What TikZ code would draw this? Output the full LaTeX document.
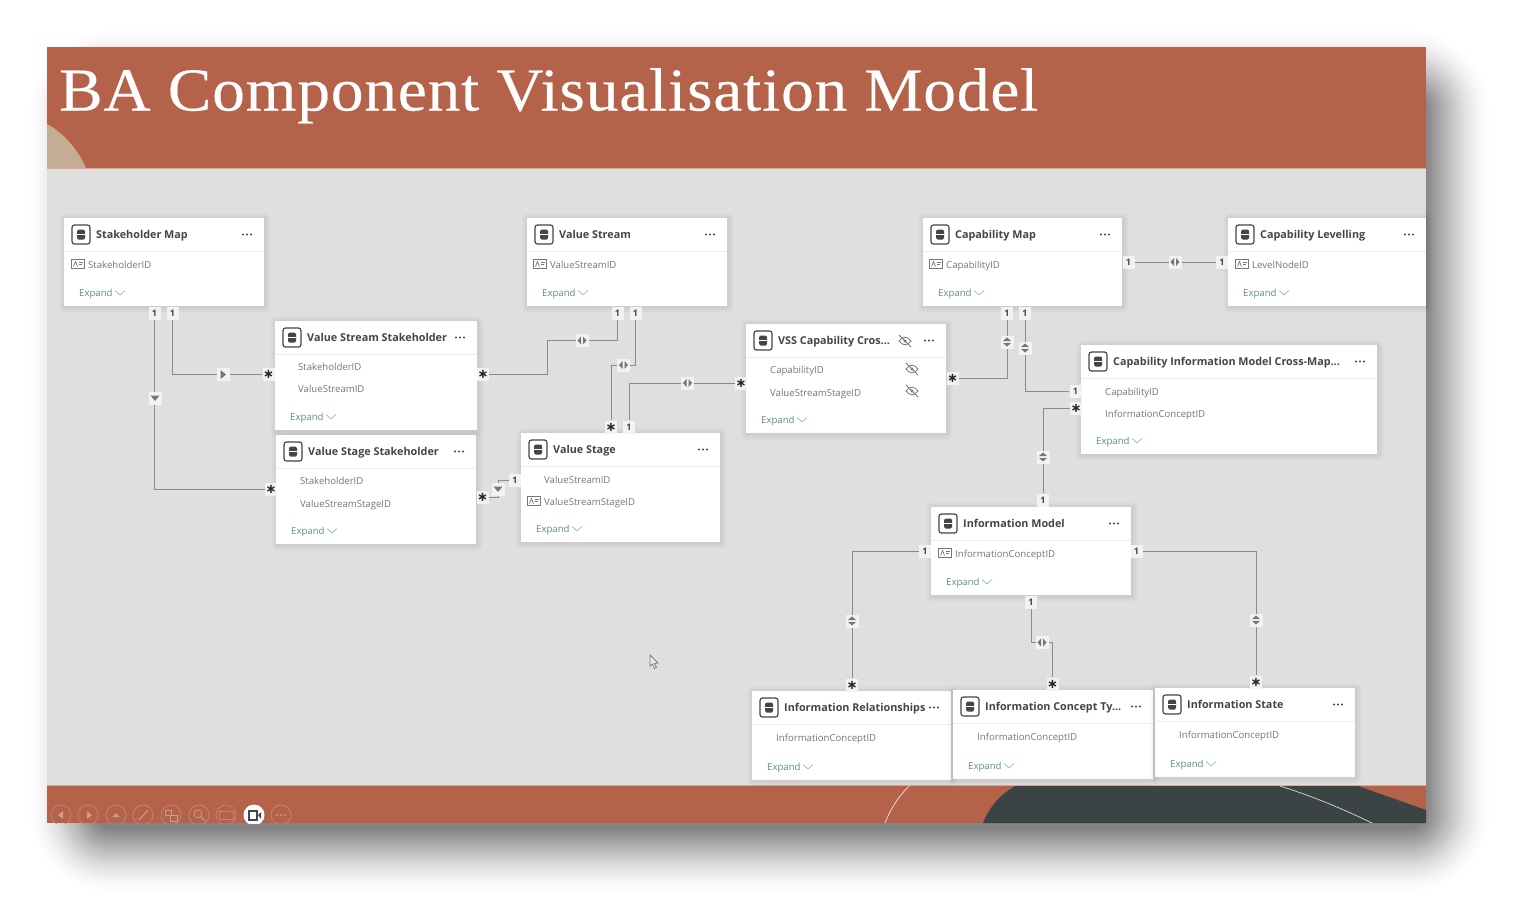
\documentclass[tikz,border=0pt]{standalone}
\usepackage{fontspec}
\setmainfont{Open Sans}
\newfontfamily\slidefont[LetterSpace=1.4,FakeStretch=1.07,FakeBold=0.25]{Liberation Serif}
\newfontfamily\starfont{DejaVu Sans}
\definecolor{slidered}{HTML}{B4634A}
\definecolor{slidetan}{HTML}{C5AD93}
\definecolor{slidedark}{HTML}{3C4345}
\definecolor{canvasgray}{HTML}{E0DFDD}
\definecolor{linegray}{HTML}{8A8A88}
\definecolor{titlegray}{HTML}{454545}
\definecolor{fieldgray}{HTML}{767676}
\definecolor{expandteal}{HTML}{5F8C8C}
\tikzset{
    tablecard/.style={fill=white},
    cardshade/.style={fill=black, opacity=0.011},
    tabletitle/.style={anchor=base west, inner sep=0pt, yshift=-4pt, font=\fontsize{10.8}{12}\selectfont\bfseries, text=titlegray},
    tablefield/.style={anchor=base west, inner sep=0pt, yshift=-3.5pt, font=\fontsize{9.6}{10}\selectfont, text=fieldgray},
    tableexpand/.style={anchor=base west, inner sep=0pt, yshift=-3.5pt, font=\fontsize{9.6}{10}\selectfont, text=expandteal},
    badge/.style={fill=canvasgray!40!white, inner sep=0pt, minimum width=12pt, minimum height=13pt, font=\fontsize{9}{10}\selectfont\bfseries, text=titlegray},
    starbadge/.style={badge, font=\fontsize{13}{13}\starfont\bfseries, text=black!85},
    stickerbox/.style={fill=canvasgray!40!white, inner sep=0pt, minimum width=13pt, minimum height=13pt},
    relline/.style={linegray, line width=0.95pt},
}
% one table of the model view, corners in pixels
\newcommand{\tablecard}[6]{%
    \foreach \grow in {6,5,4,3,2,1}
        \fill[cardshade, rounded corners=\grow pt] (#2-\grow+1,#3-\grow+1) rectangle (#4+\grow+1,#5+\grow+1);
    \fill[tablecard] (#2,#3) rectangle (#4,#5);
    \draw[canvasgray!60!white, line width=0.6pt] (#2,#3+33) -- (#4,#3+33);
    \draw[titlegray, line width=1.2pt, rounded corners=2.5pt] (#2+8,#3+7) rectangle (#2+26,#3+26);
    \fill[titlegray, rounded corners=1.5pt] (#2+13,#3+11.5) rectangle (#2+21,#3+21.5);
    \draw[white, line width=0.6pt] (#2+13,#3+16.5) -- (#2+21,#3+16.5);
    \node[tabletitle] (#1) at (#2+32,#3+16.5) {#6};
    \foreach \dotx in {-21,-17,-13}
        \fill[titlegray] (#4+\dotx,#3+16.5) circle (1.05);
    \node[tableexpand] (#1expand) at (#2+15,#5-13) {Expand};
    \draw[expandteal!70!white, line width=0.6pt] (#2+51,#5-15.5) -- (#2+56,#5-11) -- (#2+61,#5-15.5);
}
\newcommand{\keyicon}[2]{%
    \draw[fieldgray, line width=0.7pt] (#1-6.5,#2-4.5) rectangle (#1+6.5,#2+4.5);
    \draw[fieldgray, line width=0.7pt] (#1-4.5,#2+2.5) -- (#1-2.5,#2-2.5) -- (#1-0.5,#2+2.5);
    \draw[fieldgray, line width=0.7pt] (#1+1,#2-2) -- (#1+5,#2-2) (#1+1,#2) -- (#1+4,#2);
}
\newcommand{\hiddenicon}[2]{%
    \draw[fieldgray, line width=0.8pt] (#1-6,#2) .. controls (#1-2,#2-5) and (#1+2,#2-5) .. (#1+6,#2) .. controls (#1+2,#2+5) and (#1-2,#2+5) .. cycle;
    \fill[fieldgray] (#1,#2) circle (1.6);
    \draw[fieldgray, line width=0.8pt] (#1-6,#2-6) -- (#1+6,#2+6);
}
% little filter-direction sticker on a relationship line
\newcommand{\sticker}[4]{%
    \node[stickerbox] (#1) at (#2,#3) {};
    \begin{scope}[shift={(#2,#3)}, rotate=#4]
        \fill[linegray!85!black] (-1,-4) -- (-1,4) -- (-4.5,0) -- cycle;
        \fill[linegray!85!black] (1,-4) -- (1,4) -- (4.5,0) -- cycle;
    \end{scope}
}
\newcommand{\singlesticker}[4]{%
    \node[stickerbox] (#1) at (#2,#3) {};
    \begin{scope}[shift={(#2,#3)}, rotate=#4]
        \fill[linegray!85!black] (-2.5,-4.5) -- (-2.5,4.5) -- (3,0) -- cycle;
    \end{scope}
}
\begin{document}
\begin{tikzpicture}[x=1pt,y=-1pt]
    \useasboundingbox (0,0) rectangle (1521,918);
    \fill[white] (0,0) rectangle (1521,918);
    % soft shadow of the slide
    \foreach \spread in {50,48,...,-14} {
        \pgfmathsetmacro{\shadeop}{0.004+0.028*(50-\spread)/64}
        \pgfmathsetmacro{\shaderad}{\spread+30}
        \fill[black, opacity=\shadeop, rounded corners=\shaderad pt] (80-\spread,80-\spread) rectangle (1440+\spread,843+\spread);
    }
    % slide
    \fill[canvasgray] (47,168) rectangle (1426,786);
    \fill[slidered] (47,47) rectangle (1426,168);
    \fill[slidetan] (47,124) .. controls (65,134) and (78,150) .. (86,168) -- (47,168) -- cycle;
    \fill[slidered] (47,786) rectangle (1426,823);
    \draw[slidered!55!white, line width=0.8pt] (47,168.3) -- (1426,168.3) (47,785.7) -- (1426,785.7);
    \fill[slidedark] (1015,786) -- (1358,786) -- (1426,810) -- (1426,823) -- (983,823) .. controls (990,806) and (1000,795) .. (1015,786) -- cycle;
    \draw[white!80!slidered, line width=0.7pt] (909,786) .. controls (898,797) and (890,810) .. (885,823);
    \draw[white!80!slidedark, line width=0.7pt] (1280,786) .. controls (1315,797) and (1345,810) .. (1372,823);
    \node[anchor=base west, inner sep=0pt, text=white, font=\fontsize{61}{61}\slidefont] (slidetitle) at (59,110.5) {BA Component Visualisation Model};

    % slide show buttons
    \begin{scope}
        \clip (47,786) rectangle (1426,823);
        \foreach \btnx in {61,88,116,143,171,199,226,281} {
            \draw[white!22!slidered, line width=0.7pt] (\btnx,815) circle (10);
        }
        \fill[white!35!slidered] (63,811) -- (63,819) -- (58,815) -- cycle;
        \fill[white!35!slidered] (87,811) -- (87,819) -- (92,815) -- cycle;
        \fill[white!35!slidered] (112,817) -- (120,817) -- (116,813) -- cycle;
        \draw[white!35!slidered, line width=1pt] (139,820) -- (148,810);
        \draw[white!35!slidered, line width=0.8pt] (165,810) rectangle (171,815) (170,815) rectangle (177,821);
        \draw[white!35!slidered, line width=0.8pt] (198,814) circle (4) (201,817) -- (205,821);
        \draw[white!22!slidered, line width=0.8pt] (219,811) rectangle (233,819);
        \foreach \dotx in {277,281,285} {
            \fill[white!35!slidered] (\dotx,815) circle (1);
        }
        \fill[white] (254,815) circle (10.5);
        \draw[titlegray, line width=1.1pt] (249,811) rectangle (257,820);
        \fill[titlegray] (258,815) -- (261,812) -- (261,819) -- cycle;
    \end{scope}

    % tables
    \tablecard{stakeholdermap}{64}{218}{264}{306}{Stakeholder Map}
    \keyicon{78}{264}
    \node[tablefield] (smkey) at (88,264.5) {StakeholderID};

    \tablecard{vsstakeholder}{275}{321}{477}{430}{Value Stream Stakeholder}
    \node[tablefield] (vsskfieldone) at (298,367) {StakeholderID};
    \node[tablefield] (vsskfieldtwo) at (298,389) {ValueStreamID};

    \tablecard{vstagestakeholder}{276}{435}{476}{544}{Value Stage Stakeholder}
    \node[tablefield] (vgskfieldone) at (300,481) {StakeholderID};
    \node[tablefield] (vgskfieldtwo) at (300,503.5) {ValueStreamStageID};

    \tablecard{valuestream}{527}{218}{727}{306}{Value Stream}
    \keyicon{540}{264}
    \node[tablefield] (vskey) at (550,264.5) {ValueStreamID};

    \tablecard{valuestage}{521}{433}{720}{542}{Value Stage}
    \node[tablefield] (vgfieldone) at (544,479.5) {ValueStreamID};
    \keyicon{534}{501}
    \node[tablefield] (vgfieldtwo) at (544,502) {ValueStreamStageID};

    \tablecard{vsscap}{746}{324}{946}{433}{VSS Capability Cros...}
    \hiddenicon{905}{341}
    \node[tablefield] (vssfieldone) at (770,370) {CapabilityID};
    \hiddenicon{912}{369}
    \node[tablefield] (vssfieldtwo) at (770,392.5) {ValueStreamStageID};
    \hiddenicon{912}{391}

    \tablecard{capmap}{923}{218}{1122}{306}{Capability Map}
    \keyicon{936}{264}
    \node[tablefield] (cmkey) at (946,264.5) {CapabilityID};

    \tablecard{caplevel}{1228}{218}{1426}{306}{Capability Levelling}
    \keyicon{1242}{264}
    \node[tablefield] (clkey) at (1252,264.5) {LevelNodeID};

    \tablecard{capinfo}{1081}{345}{1377}{454}{Capability Information Model Cross-Map...}
    \node[tablefield] (cifieldone) at (1105,392) {CapabilityID};
    \node[tablefield] (cifieldtwo) at (1105,414) {InformationConceptID};

    \tablecard{infomodel}{931}{507}{1131}{595}{Information Model}
    \keyicon{945}{553}
    \node[tablefield] (imkey) at (955,553.5) {InformationConceptID};

    \tablecard{inforel}{752}{691}{951}{780}{Information Relationships}
    \node[tablefield] (irkey) at (776,737.5) {InformationConceptID};

    \tablecard{infotype}{953}{690}{1153}{779}{Information Concept Ty...}
    \node[tablefield] (itkey) at (977,736.5) {InformationConceptID};

    \tablecard{infostate}{1155}{688}{1355}{777}{Information State}
    \node[tablefield] (iskey) at (1179,735) {InformationConceptID};

    % cardinality badges
    \node[badge] (smonea) at (154.5,313) {1};
    \node[badge] (smoneb) at (172.5,313) {1};
    \node[starbadge] (vskstar) at (268.5,374.5) {∗};
    \node[starbadge] (vgskstar) at (271,489) {∗};
    \node[starbadge] (vskstarr) at (483,374.5) {∗};
    \node[starbadge] (vgskstarr) at (482.5,497.5) {∗};
    \node[badge] (vgonel) at (515,480) {1};
    \node[badge] (vsonea) at (617.5,313) {1};
    \node[badge] (vsoneb) at (635.5,313) {1};
    \node[starbadge] (vgstar) at (611,427) {∗};
    \node[badge] (vgonet) at (629,427) {1};
    \node[starbadge] (vssstarl) at (741,383) {∗};
    \node[starbadge] (vssstarr) at (952.5,378) {∗};
    \node[badge] (cmonea) at (1007,313) {1};
    \node[badge] (cmoneb) at (1025,313) {1};
    \node[badge] (cmoner) at (1128.5,262) {1};
    \node[badge] (clone) at (1222,262) {1};
    \node[badge] (cione) at (1075.5,391) {1};
    \node[starbadge] (cistar) at (1076,408) {∗};
    \node[badge] (imonet) at (1043,500) {1};
    \node[badge] (imonel) at (925,551) {1};
    \node[badge] (imoner) at (1136.5,551) {1};
    \node[badge] (imoneb) at (1031,602) {1};
    \node[starbadge] (irstar) at (852,685) {∗};
    \node[starbadge] (itstar) at (1052.5,684) {∗};
    \node[starbadge] (isstar) at (1256,682) {∗};

    % bends
    \coordinate (vsbenda) at (547,374.5);
    \coordinate (vsbendb) at (547,340.5);
    \coordinate (vgbend) at (611,365);
    \coordinate (vgskbend) at (498,497.5);
    \coordinate (itbend) at (1052.5,642.5);

    % relationships
    \draw[relline] (smonea) |- (vgskstar);
    \draw[relline] (smoneb) |- (vskstar);
    \draw[relline] (vskstarr) -- (vsbenda) -- (vsbendb) -| (vsonea);
    \draw[relline] (vsoneb) |- (vgbend) -- (vgstar);
    \draw[relline] (vgonet) |- (vssstarl);
    \draw[relline] (vgskstarr) -- (vgskbend) |- (vgonel);
    \draw[relline] (vssstarr) -| (cmonea);
    \draw[relline] (cmoneb) |- (cione);
    \draw[relline] (cmoner) -- (clone);
    \draw[relline] (imonet) |- (cistar);
    \draw[relline] (imonel) -| (irstar);
    \draw[relline] (imoner) -| (isstar);
    \draw[relline] (imoneb) |- (itbend) -- (itstar);

    \singlesticker{fsmv}{155}{398}{-90}
    \singlesticker{fsmh}{223}{374.5}{0}
    \sticker{fvsk}{582}{340.5}{0}
    \sticker{fvsg}{623.5}{365}{0}
    \sticker{fvgvss}{687.5}{383}{0}
    \singlesticker{fvgsk}{498}{489}{-90}
    \sticker{fcmvss}{1007}{342}{90}
    \sticker{fcmci}{1025}{348}{90}
    \sticker{fcmcl}{1175}{262}{0}
    \sticker{fimci}{1043}{457}{90}
    \sticker{fimir}{852}{621}{90}
    \sticker{fimis}{1256}{620}{90}
    \sticker{fimit}{1042}{642.5}{0}

    % mouse pointer
    \draw[white!30!titlegray, fill=canvasgray!70!white, line width=0.8pt] (650,655) -- (650,666) -- (652.5,664) -- (654.5,668.5) -- (656.5,667.5) -- (654.5,663.5) -- (658,663) -- cycle;
\end{tikzpicture}
\end{document}
